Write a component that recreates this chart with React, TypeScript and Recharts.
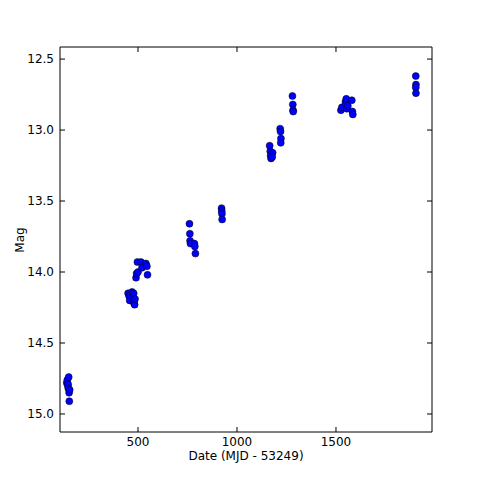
import { ScatterChart, Scatter, XAxis, YAxis } from 'recharts';

// observation dates (MJD - 53249) and magnitudes
const dates = [
  140, 143, 145, 147, 150, 148, 152, 155, 153,
  450, 455, 458, 462, 470, 475, 480, 483, 478, 485,
  490, 493, 497, 500, 515, 520, 540, 545, 548,
  760, 762, 763, 765, 785, 787, 790,
  922, 923, 924, 925,
  1165, 1168, 1170, 1172, 1180, 1178,
  1218, 1220, 1222, 1221,
  1280, 1282, 1283, 1284,
  1525, 1530, 1548, 1550, 1552, 1555, 1560, 1580, 1583, 1585,
  1903, 1904, 1903, 1904,
];
const mags = [
  14.78, 14.76, 14.80, 14.79, 14.74, 14.82, 14.85, 14.83, 14.91,
  14.15, 14.17, 14.20, 14.16, 14.14, 14.18, 14.22, 14.23, 14.15, 14.19,
  14.04, 14.01, 13.93, 14.00, 13.93, 13.97, 13.94, 13.96, 14.02,
  13.66, 13.73, 13.78, 13.80, 13.80, 13.82, 13.87,
  13.55, 13.57, 13.59, 13.63,
  13.11, 13.15, 13.18, 13.20, 13.16, 13.19,
  12.99, 13.01, 13.06, 13.09,
  12.76, 12.82, 12.86, 12.87,
  12.86, 12.84, 12.80, 12.82, 12.78, 12.85, 12.83, 12.79, 12.87, 12.89,
  12.62, 12.68, 12.70, 12.74,
];
const xTicks = [500, 1000, 1500];
const yTicks = [12.5, 13.0, 13.5, 14.0, 14.5, 15.0];

const points = dates.map((d, i) => ({ date: d, mag: mags[i] }));

const FONT = 'DejaVu Sans';

const BottomTick = (p: any) => (
  <g>
    <line x1={p.x} x2={p.x} y1={p.y} y2={p.y - 5} stroke="#000" />
    <text x={p.x} y={p.y + 14} textAnchor="middle" fontSize={12} fontFamily={FONT} fill="#000">
      {p.payload.value}
    </text>
  </g>
);
const TopTick = (p: any) => <line x1={p.x} x2={p.x} y1={p.y} y2={p.y + 5} stroke="#000" />;
const LeftTick = (p: any) => (
  <g>
    <line x1={p.x} x2={p.x + 5} y1={p.y} y2={p.y} stroke="#000" />
    <text x={p.x - 6} y={p.y + 4} textAnchor="end" fontSize={12} fontFamily={FONT} fill="#000">
      {p.payload.value.toFixed(1)}
    </text>
  </g>
);
const RightTick = (p: any) => <line x1={p.x} x2={p.x - 5} y1={p.y} y2={p.y} stroke="#000" />;

const Dot = (p: any) => <circle cx={p.cx} cy={p.cy} r={3.5} fill="#0000ff" stroke="#000" strokeWidth={0.5} />;
const NoDot = () => <g />;

export default function App() {
  return (
    <div style={{ position: 'absolute', left: 0, top: 0, width: 480, height: 480, background: '#fff' }}>
      <ScatterChart width={480} height={480} margin={{ top: 46, right: 47, bottom: 0, left: 0 }}>
        <XAxis xAxisId="b" type="number" dataKey="date" domain={[106, 1985]} allowDataOverflow ticks={xTicks}
          height={48} tickSize={0} tickMargin={0} tick={<BottomTick />} axisLine={{ stroke: '#000' }} />
        <XAxis xAxisId="t" orientation="top" type="number" dataKey="date" domain={[106, 1985]} allowDataOverflow ticks={xTicks}
          height={1} tickSize={0} tickMargin={0} tick={<TopTick />} axisLine={{ stroke: '#000' }} />
        <YAxis yAxisId="l" type="number" dataKey="mag" domain={[12.415, 15.127]} reversed allowDataOverflow ticks={yTicks}
          width={60} tickSize={0} tickMargin={0} tick={<LeftTick />} axisLine={{ stroke: '#000' }} />
        <YAxis yAxisId="r" orientation="right" type="number" dataKey="mag" domain={[12.415, 15.127]} reversed allowDataOverflow ticks={yTicks}
          width={1} tickSize={0} tickMargin={0} tick={<RightTick />} axisLine={{ stroke: '#000' }} />
        <Scatter data={points} xAxisId="t" yAxisId="r" shape={<NoDot />} isAnimationActive={false} />
        <Scatter data={points} xAxisId="b" yAxisId="l" shape={<Dot />} isAnimationActive={false} />
        <text x={246} y={460} textAnchor="middle" fontSize={12} fontFamily={FONT} fill="#000">Date (MJD - 53249)</text>
        <text x={24} y={240} textAnchor="middle" fontSize={12} fontFamily={FONT} fill="#000" transform="rotate(-90 24 240)">Mag</text>
      </ScatterChart>
    </div>
  );
}
